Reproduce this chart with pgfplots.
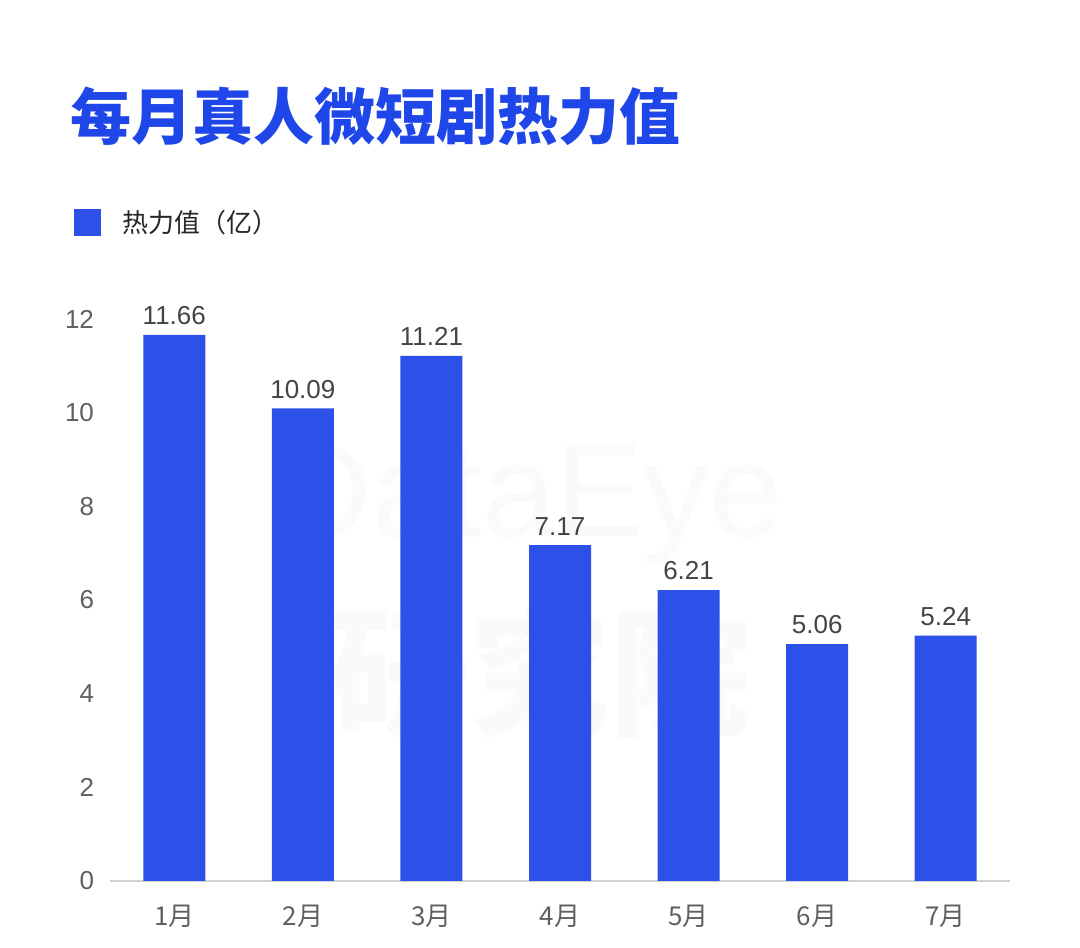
\documentclass[border=0pt]{standalone}
\usepackage{pgfplots}
\pgfplotsset{compat=1.18}
\usepackage{fontspec}
\setmainfont{Liberation Sans}
\newfontfamily\cjk{Noto Sans CJK SC}
\definecolor{barblue}{HTML}{2D50E8}
\definecolor{titleblue}{HTML}{1F46E8}
\definecolor{ticktext}{HTML}{606060}
\definecolor{labeltext}{HTML}{444444}
\definecolor{wm}{HTML}{FAFAFC}
\begin{document}
\begin{tikzpicture}[x=0.5bp,y=0.5bp]
\fill[white] (0,0) rectangle (1080,948);
\node[text=wm, inner sep=0, font=\fontsize{66bp}{70bp}\selectfont] at (530,443) {DataEye};
\node[text=wm, inner sep=0, font=\cjk\bfseries\fontsize{70bp}{74bp}\selectfont] at (540,276) {研究院};
\node[anchor=base west, text=titleblue, inner sep=0, font=\cjk\bfseries\fontsize{30.5bp}{36bp}\selectfont] at (70,808) {每月真人微短剧热力值};
\fill[barblue] (74,712) rectangle (101,739);
\node[anchor=west, inner sep=0, text=black!85, font=\cjk\fontsize{13bp}{15bp}\selectfont] at (122,725) {热力值（亿）};
\begin{axis}[
  at={(55bp,33.5bp)}, anchor=south west,
  scale only axis, width=450bp, height=281bp,
  xmin=-0.5, xmax=6.5, ymin=0, ymax=12,
  clip=false,
  axis x line*=bottom,
  x axis line style={draw=black!18, line width=0.6bp},
  y axis line style={draw=none},
  major tick length=0pt,
  xtick={0,1,2,3,4,5,6},
  xticklabels={1月,2月,3月,4月,5月,6月,7月},
  ytick={0,2,4,6,8,10,12},
  /pgf/number format/assume math mode=true,
  xticklabel style={font=\cjk\fontsize{13bp}{15bp}\selectfont, text=ticktext, yshift=-8.5bp},
  yticklabel style={font=\fontsize{13bp}{15bp}\selectfont, text=ticktext, xshift=-4.5bp},
  ybar, bar width=31bp,
  nodes near coords,
  nodes near coords style={font=\fontsize{13bp}{15bp}\selectfont, text=labeltext, yshift=1.5bp, /pgf/number format/.cd, fixed, precision=2, fixed zerofill, assume math mode=true},
]
\addplot[fill=barblue, draw=none] coordinates {(0,11.66) (1,10.09) (2,11.21) (3,7.17) (4,6.21) (5,5.06) (6,5.24)};
\end{axis}
\end{tikzpicture}
\end{document}
